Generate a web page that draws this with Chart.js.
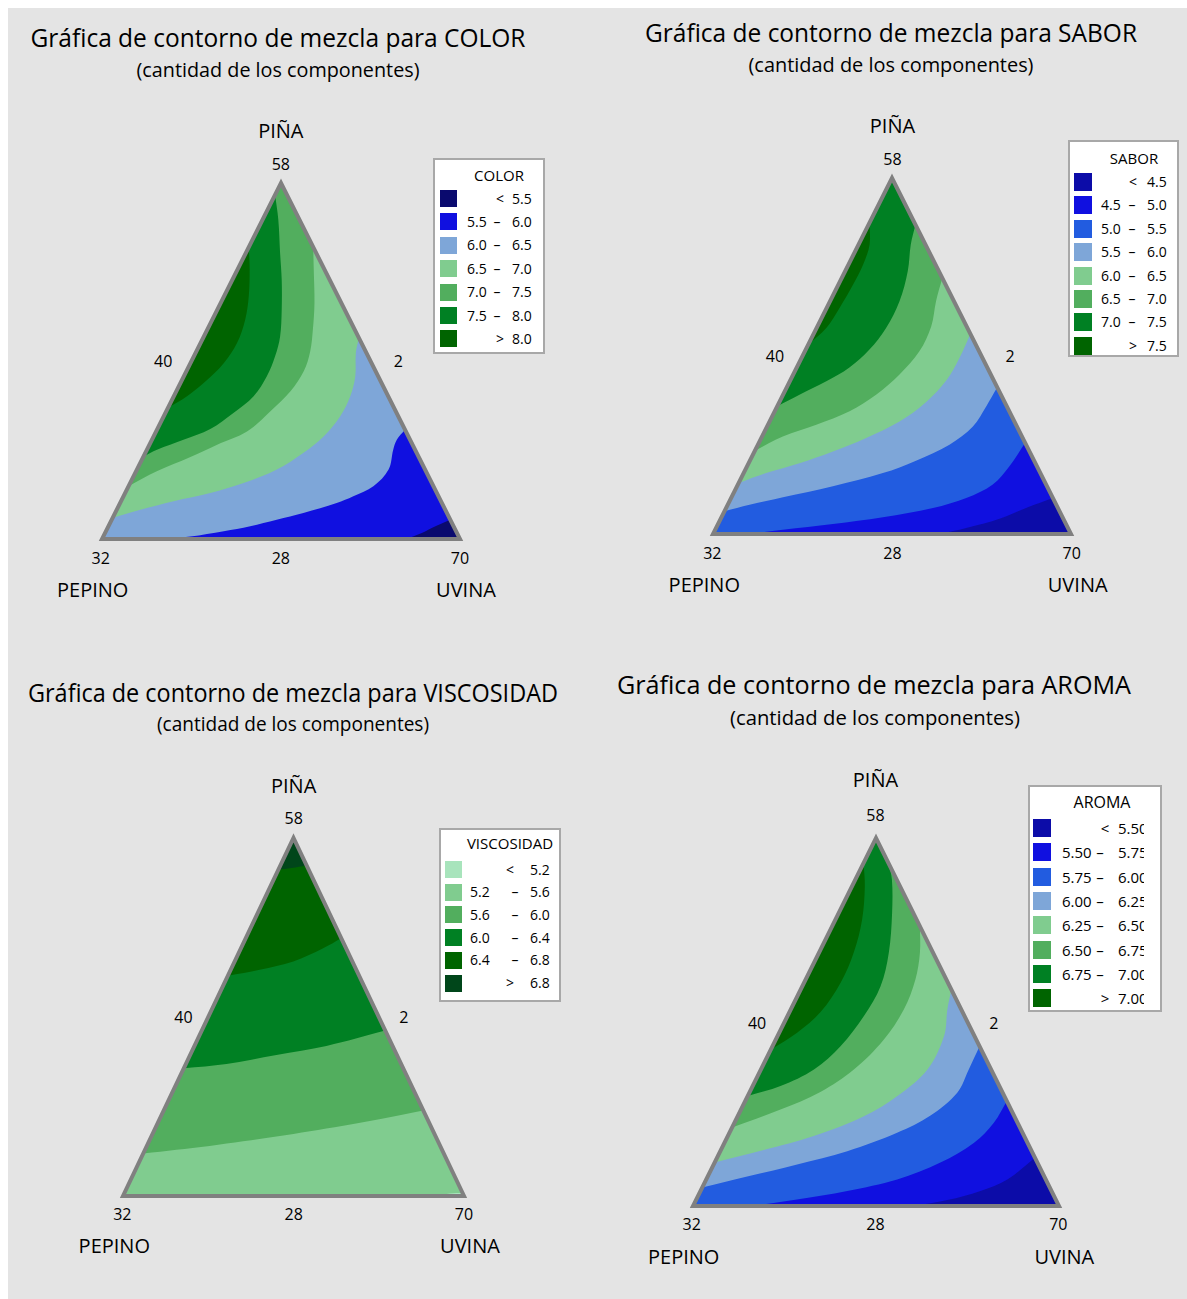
<!DOCTYPE html>
<html lang="es">
<head>
<meta charset="utf-8">
<title>Gráficas de contorno de mezcla</title>
<script src="https://cdn.jsdelivr.net/npm/chart.js@4.4.1/dist/chart.umd.min.js"></script>
<style>
  html, body { margin: 0; padding: 0; background: #fff; }
  body { width: 1187px; height: 1299px; position: relative; overflow: hidden;
         font-family: "Open Sans", "Noto Sans", sans-serif; color: #000; }
  #sheet { position: absolute; left: 8px; top: 8px; right: 0; bottom: 0; background: #e4e4e4; }
  .txt { position: absolute; white-space: nowrap; line-height: 1; transform-origin: center center; }
  canvas.tri { position: absolute; }
  .legend { position: absolute; background: #fff; border: 2px solid #a8a8a8; box-sizing: border-box; }
  .legend .clip { position: absolute; left: 0; top: 0; bottom: 0; overflow: hidden; }
  .legend .sw { position: absolute; }
  .legend .lt { position: absolute; white-space: nowrap; line-height: 1; }
</style>
</head>
<body>
<div id="sheet"></div>
<script>
// Ternary points are [PIÑA, UVINA] fractions of the pseudo-component space; PEPINO is the remainder.
const componentNames = ['PIÑA', 'PEPINO', 'UVINA'];
const cornerTicks = ['58', '32', '70'];   // PIÑA, PEPINO, UVINA vertices
const edgeTicks = ['40', '28', '2'];      // left, bottom, right sides

// COLOR
const colorBreaks = ['5.5', '6.0', '6.5', '7.0', '7.5', '8.0'];
const colorPalette = ['#0a0a6e', '#1010e0', '#7ea6d8', '#80cc8f', '#52ae5e', '#008023', '#006400'];
const colorContours = [
  [[0, 0.851], [0.017, 0.885], [0.037, 0.916], [0.054, 0.946]],
  [[0, 0.172], [0.007, 0.243], [0.022, 0.329], [0.036, 0.396], [0.054, 0.461], [0.073, 0.526], [0.101, 0.605],
   [0.120, 0.642], [0.148, 0.684], [0.195, 0.703], [0.251, 0.688], [0.279, 0.684], [0.307, 0.693]],
  [[0.059, 0], [0.082, 0.066], [0.106, 0.147], [0.129, 0.238], [0.157, 0.317], [0.195, 0.391], [0.242, 0.442],
   [0.288, 0.475], [0.345, 0.493], [0.401, 0.493], [0.457, 0.479], [0.522, 0.448], [0.565, 0.435]],
  [[0.148, 0], [0.190, 0.058], [0.230, 0.132], [0.265, 0.189], [0.302, 0.254], [0.359, 0.291], [0.415, 0.319],
   [0.471, 0.328], [0.527, 0.318], [0.588, 0.295], [0.663, 0.262], [0.757, 0.213], [0.820, 0.180]],
  [[0.232, 0], [0.251, 0.028], [0.279, 0.088], [0.309, 0.148], [0.354, 0.190], [0.401, 0.223], [0.457, 0.232],
   [0.513, 0.227], [0.569, 0.213], [0.644, 0.180], [0.728, 0.138], [0.803, 0.096], [0.897, 0.044], [0.967, 0]],
  [[0.368, 0], [0.401, 0.037], [0.438, 0.065], [0.494, 0.093], [0.551, 0.102], [0.616, 0.092], [0.682, 0.069],
   [0.757, 0.034], [0.820, 0]]
];

// SABOR
const saborBreaks = ['4.5', '5.0', '5.5', '6.0', '6.5', '7.0', '7.5'];
const saborPalette = ['#0c0ca8', '#1010e0', '#225ce0', '#7ea6d8', '#80cc8f', '#52ae5e', '#008023', '#006400'];
const saborContours = [
  [[0, 0.633], [0.017, 0.699], [0.043, 0.779], [0.073, 0.838], [0.101, 0.899]],
  [[0, 0.102], [0.012, 0.189], [0.028, 0.321], [0.047, 0.451], [0.073, 0.578], [0.101, 0.657], [0.139, 0.712],
   [0.190, 0.733], [0.256, 0.744]],
  [[0.064, 0], [0.082, 0.061], [0.103, 0.144], [0.134, 0.268], [0.171, 0.389], [0.206, 0.464], [0.251, 0.535],
   [0.302, 0.575], [0.359, 0.584], [0.412, 0.588]],
  [[0.143, 0], [0.171, 0.063], [0.199, 0.142], [0.232, 0.219], [0.270, 0.293], [0.316, 0.363], [0.371, 0.410],
   [0.431, 0.436], [0.494, 0.441], [0.562, 0.438]],
  [[0.234, 0], [0.274, 0.058], [0.307, 0.135], [0.345, 0.209], [0.391, 0.260], [0.448, 0.297], [0.513, 0.320],
   [0.583, 0.318], [0.654, 0.296], [0.719, 0.281]],
  [[0.359, 0], [0.391, 0.046], [0.429, 0.102], [0.468, 0.147], [0.518, 0.178], [0.579, 0.194], [0.654, 0.194],
   [0.738, 0.175], [0.813, 0.146], [0.869, 0.131]],
  [[0.532, 0], [0.579, 0.027], [0.635, 0.036], [0.700, 0.041], [0.757, 0.041], [0.813, 0.031], [0.874, 0]]
];

// VISCOSIDAD
const viscBreaks = ['5.2', '5.6', '6.0', '6.4', '6.8'];
const viscPalette = ['#a8e4bc', '#80cc8f', '#52ae5e', '#008023', '#006400', '#00461a'];
const viscContours = [
  [[0, 0.920], [0.007, 0.955], [0.009, 0.991]],
  [[0.119, 0], [0.140, 0.184], [0.166, 0.367], [0.196, 0.548], [0.222, 0.682], [0.239, 0.761]],
  [[0.357, 0], [0.369, 0.119], [0.394, 0.253], [0.419, 0.387], [0.462, 0.538]],
  [[0.615, 0], [0.632, 0.085], [0.655, 0.172], [0.692, 0.241], [0.720, 0.280]],
  [[0.911, 0], [0.916, 0.036], [0.923, 0.077]]
];

// AROMA
const aromaBreaks = ['5.50', '5.75', '6.00', '6.25', '6.50', '6.75', '7.00'];
const aromaPalette = ['#0c0ca8', '#1010e0', '#225ce0', '#7ea6d8', '#80cc8f', '#52ae5e', '#008023', '#006400'];
const aromaContours = [
  [[0, 0.603], [0.016, 0.687], [0.041, 0.765], [0.072, 0.823], [0.131, 0.869]],
  [[0, 0.157], [0.018, 0.275], [0.041, 0.401], [0.072, 0.522], [0.118, 0.617], [0.172, 0.682], [0.226, 0.709],
   [0.285, 0.715]],
  [[0.050, 0], [0.080, 0.108], [0.113, 0.228], [0.149, 0.347], [0.199, 0.458], [0.246, 0.526], [0.308, 0.568],
   [0.371, 0.568], [0.434, 0.566]],
  [[0.118, 0], [0.152, 0.117], [0.190, 0.235], [0.244, 0.345], [0.299, 0.409], [0.371, 0.455], [0.462, 0.455],
   [0.534, 0.428], [0.588, 0.412]],
  [[0.213, 0], [0.262, 0.108], [0.310, 0.193], [0.371, 0.254], [0.452, 0.295], [0.534, 0.309], [0.615, 0.300],
   [0.688, 0.276], [0.760, 0.240]],
  [[0.299, 0], [0.326, 0.076], [0.371, 0.145], [0.434, 0.186], [0.516, 0.209], [0.597, 0.214], [0.688, 0.191],
   [0.796, 0.146], [0.887, 0.100], [0.932, 0.068]],
  [[0.425, 0], [0.471, 0.049], [0.527, 0.085], [0.606, 0.100], [0.688, 0.095], [0.778, 0.073], [0.869, 0.035],
   [0.932, 0]]
];

// pure components: PEPINO, UVINA, PIÑA (perimeter order, counter-clockwise)
const pureBlends = [[0, 0], [0, 1], [1, 0]];

const panels = [
  {
    title: 'Gráfica de contorno de mezcla para COLOR', response: 'COLOR',
    breaks: colorBreaks, palette: colorPalette, contours: colorContours,
    tri: { left: 101.7, right: 460, top: 183.3, bottom: 539.3 },
    head: { cx: 277.5, cy: 37, w: 495 }, sub: { cx: 278, cy: 70, w: 283 },
    off: { name: 52, tick: 19, base: 19, baseName: 51, edge: 28 },
    legend: { x: 433, y: 158, w: 112, h: 196, titleX: 64, titleY: 15, rowY: 30, pitch: 23.4, swX: 5, sw: 17,
              lowX: 32, dashX: 62, highX: 77, ltX: 65, clipW: 108, font: 14 }
  },
  {
    title: 'Gráfica de contorno de mezcla para SABOR', response: 'SABOR',
    breaks: saborBreaks, palette: saborPalette, contours: saborContours,
    tri: { left: 713.3, right: 1071.7, top: 178.3, bottom: 534.3 },
    head: { cx: 891, cy: 32, w: 492 }, sub: { cx: 891, cy: 65, w: 285 },
    off: { name: 52, tick: 19, base: 19, baseName: 51, edge: 28 },
    legend: { x: 1068, y: 140, w: 111, h: 217, titleX: 64, titleY: 16, rowY: 31, pitch: 23.4, swX: 4, sw: 18,
              lowX: 31, dashX: 62, highX: 77, ltX: 63, clipW: 107, font: 14 }
  },
  {
    title: 'Gráfica de contorno de mezcla para VISCOSIDAD', response: 'VISCOSIDAD',
    breaks: viscBreaks, palette: viscPalette, contours: viscContours,
    tri: { left: 123.3, right: 464, top: 838.3, bottom: 1196 },
    head: { cx: 293, cy: 692, w: 530 }, sub: { cx: 293, cy: 724, w: 272 },
    off: { name: 52, tick: 20, base: 18, baseName: 50, edge: 25 },
    legend: { x: 439, y: 828, w: 122, h: 174, titleX: 69, titleY: 13, rowY: 31, pitch: 22.7, swX: 4, sw: 17,
              lowX: 29, dashX: 74, highX: 89, ltX: 69, clipW: 118, font: 14 }
  },
  {
    title: 'Gráfica de contorno de mezcla para AROMA', response: 'AROMA',
    breaks: aromaBreaks, palette: aromaPalette, contours: aromaContours,
    tri: { left: 692.7, right: 1058.3, top: 838.3, bottom: 1206.7 },
    head: { cx: 874, cy: 684, w: 514 }, sub: { cx: 875, cy: 718, w: 290 },
    off: { name: 58, tick: 23, base: 17, baseName: 50, edge: 27 },
    legend: { x: 1028, y: 785, w: 134, h: 227, titleX: 72, titleY: 15, rowY: 32, pitch: 24.3, swX: 3, sw: 18,
              lowX: 32, dashX: 70, highX: 88, ltX: 75, clipW: 114, font: 15 }
  }
];

const toXY = ([pina, uvina]) => ({ x: uvina + pina / 2, y: pina });
const frameXY = pureBlends.map(toXY);

// position of a boundary point along the triangle perimeter (0..3, counter-clockwise from PEPINO)
function perimeterPos([pina, uvina]) {
  const eps = 1e-6;
  if (pina < eps) return uvina;
  if (1 - pina - uvina < eps) return 1 + pina;
  return 3 - pina;
}

// vertices passed when walking counter-clockwise from the curve end back to its start
function closingCorners(start, end) {
  const tS = perimeterPos(start), tE = perimeterPos(end);
  const stop = tS < tE ? tS + 3 : tS;
  const out = [];
  for (let c = 1; c <= 5; c++) {
    if (c > tE && c < stop) out.push(c % 3);
  }
  return out;
}

// fills each superlevel region (high side on the left of the contour) over the lowest class
const contourFill = {
  id: 'contourFill',
  beforeDatasetsDraw(chart, args, opts) {
    const { ctx, chartArea, scales: { x, y } } = chart;
    const frame = frameXY.map(p => [x.getPixelForValue(p.x), y.getPixelForValue(p.y)]);
    ctx.save();
    ctx.beginPath();
    frame.forEach(([a, b], i) => i ? ctx.lineTo(a, b) : ctx.moveTo(a, b));
    ctx.closePath();
    ctx.clip();
    ctx.fillStyle = opts.base;
    ctx.fill();
    chart.data.datasets.forEach((ds, i) => {
      if (!ds.band) return;
      const line = chart.getDatasetMeta(i).dataset;
      line.updateControlPoints(chartArea, 'x');
      ctx.beginPath();
      line.path(ctx);
      const t = ds.ternary;
      closingCorners(t[0], t[t.length - 1]).forEach(k => ctx.lineTo(frame[k][0], frame[k][1]));
      ctx.closePath();
      ctx.fillStyle = ds.band;
      ctx.fill();
    });
    ctx.restore();
  }
};

function addText(parent, str, cx, cy, size, fitWidth) {
  const d = document.createElement('div');
  d.className = 'txt';
  d.textContent = str;
  d.style.left = cx + 'px';
  d.style.top = cy + 'px';
  d.style.fontSize = size + 'px';
  parent.appendChild(d);
  const k = fitWidth ? fitWidth / d.getBoundingClientRect().width : 1;
  d.style.transform = `translate(-50%, -50%) scaleX(${k})`;
  return d;
}

function legendText(parent, str, x, cy, size, align) {
  const d = document.createElement('div');
  d.className = 'lt';
  d.textContent = str;
  d.style.fontSize = size + 'px';
  d.style.left = x + 'px';
  d.style.top = cy + 'px';
  const shift = align === 'center' ? '-50%' : '0';
  d.style.transform = `translate(${shift}, -50%)`;
  parent.appendChild(d);
}

function buildLegend(p) {
  const L = p.legend;
  const box = document.createElement('div');
  box.className = 'legend';
  Object.assign(box.style, { left: L.x + 'px', top: L.y + 'px', width: L.w + 'px', height: L.h + 'px' });
  document.body.appendChild(box);
  const clip = document.createElement('div');
  clip.className = 'clip';
  clip.style.width = L.clipW + 'px';
  box.appendChild(clip);
  legendText(clip, p.response, L.titleX, L.titleY, L.font + 1, 'center');

  const n = p.breaks.length + 1;
  for (let i = 0; i < n; i++) {
    const top = L.rowY + i * L.pitch;
    const cy = top + L.sw / 2;
    const sw = document.createElement('div');
    sw.className = 'sw';
    Object.assign(sw.style, { left: L.swX + 'px', top: top + 'px', width: L.sw + 'px', height: L.sw + 'px',
                              background: p.palette[i] });
    clip.appendChild(sw);
    if (i === 0) {
      legendText(clip, '<', L.ltX, cy, L.font, 'center');
      legendText(clip, p.breaks[0], L.highX, cy, L.font, 'left');
    } else if (i === n - 1) {
      legendText(clip, '>', L.ltX, cy, L.font, 'center');
      legendText(clip, p.breaks[n - 2], L.highX, cy, L.font, 'left');
    } else {
      legendText(clip, p.breaks[i - 1], L.lowX, cy, L.font, 'left');
      legendText(clip, '–', L.dashX, cy, L.font, 'center');
      legendText(clip, p.breaks[i], L.highX, cy, L.font, 'left');
    }
  }
}

function buildPanel(p) {
  const body = document.body;
  const T = p.tri, o = p.off;
  const apexX = (T.left + T.right) / 2;

  addText(body, p.title, p.head.cx, p.head.cy, 25, p.head.w);
  addText(body, '(cantidad de los componentes)', p.sub.cx, p.sub.cy, 20, p.sub.w);

  addText(body, componentNames[0], apexX, T.top - o.name, 20);
  addText(body, cornerTicks[0], apexX, T.top - o.tick, 16);
  addText(body, cornerTicks[1], T.left - 1, T.bottom + o.base, 16);
  addText(body, edgeTicks[1], apexX, T.bottom + o.base, 16);
  addText(body, cornerTicks[2], T.right, T.bottom + o.base, 16);
  addText(body, componentNames[1], T.left - 9, T.bottom + o.baseName, 20);
  addText(body, componentNames[2], T.right + 6, T.bottom + o.baseName, 20);
  const midY = (T.top + T.bottom) / 2;
  addText(body, edgeTicks[0], (T.left + apexX) / 2 - o.edge, midY, 16);
  addText(body, edgeTicks[2], (T.right + apexX) / 2 + o.edge, midY, 16);

  const pad = 6;
  const canvas = document.createElement('canvas');
  canvas.className = 'tri';
  const cw = Math.round(T.right - T.left + 2 * pad);
  const ch = Math.round(T.bottom - T.top + 2 * pad);
  canvas.width = cw;
  canvas.height = ch;
  Object.assign(canvas.style, { left: (T.left - pad) + 'px', top: (T.top - pad) + 'px',
                                width: cw + 'px', height: ch + 'px' });
  body.appendChild(canvas);

  const datasets = p.contours.map((pts, i) => ({
    data: pts.map(toXY),
    ternary: pts,
    band: p.palette[i + 1],
    borderColor: 'rgba(0,0,0,0)',
    borderWidth: 0,
    pointRadius: 0,
    tension: 0.35,
    fill: false
  }));
  // triangle frame, drawn over the filled regions
  datasets.push({
    data: [0, 1, 2, 0, 1].map(k => frameXY[k]),
    borderColor: '#808080',
    borderWidth: 4,
    borderJoinStyle: 'miter',
    pointRadius: 0,
    tension: 0,
    fill: false,
    clip: false
  });

  new Chart(canvas, {
    type: 'line',
    data: { datasets },
    options: {
      responsive: false,
      animation: false,
      events: [],
      layout: { padding: pad },
      scales: {
        x: { type: 'linear', min: 0, max: 1, display: false },
        y: { type: 'linear', min: 0, max: 1, display: false }
      },
      plugins: {
        legend: { display: false },
        tooltip: { enabled: false },
        contourFill: { base: p.palette[0] }
      }
    },
    plugins: [contourFill]
  });

  buildLegend(p);
}

document.addEventListener('DOMContentLoaded', function() {
  panels.forEach(buildPanel);
});
</script>
</body>
</html>
